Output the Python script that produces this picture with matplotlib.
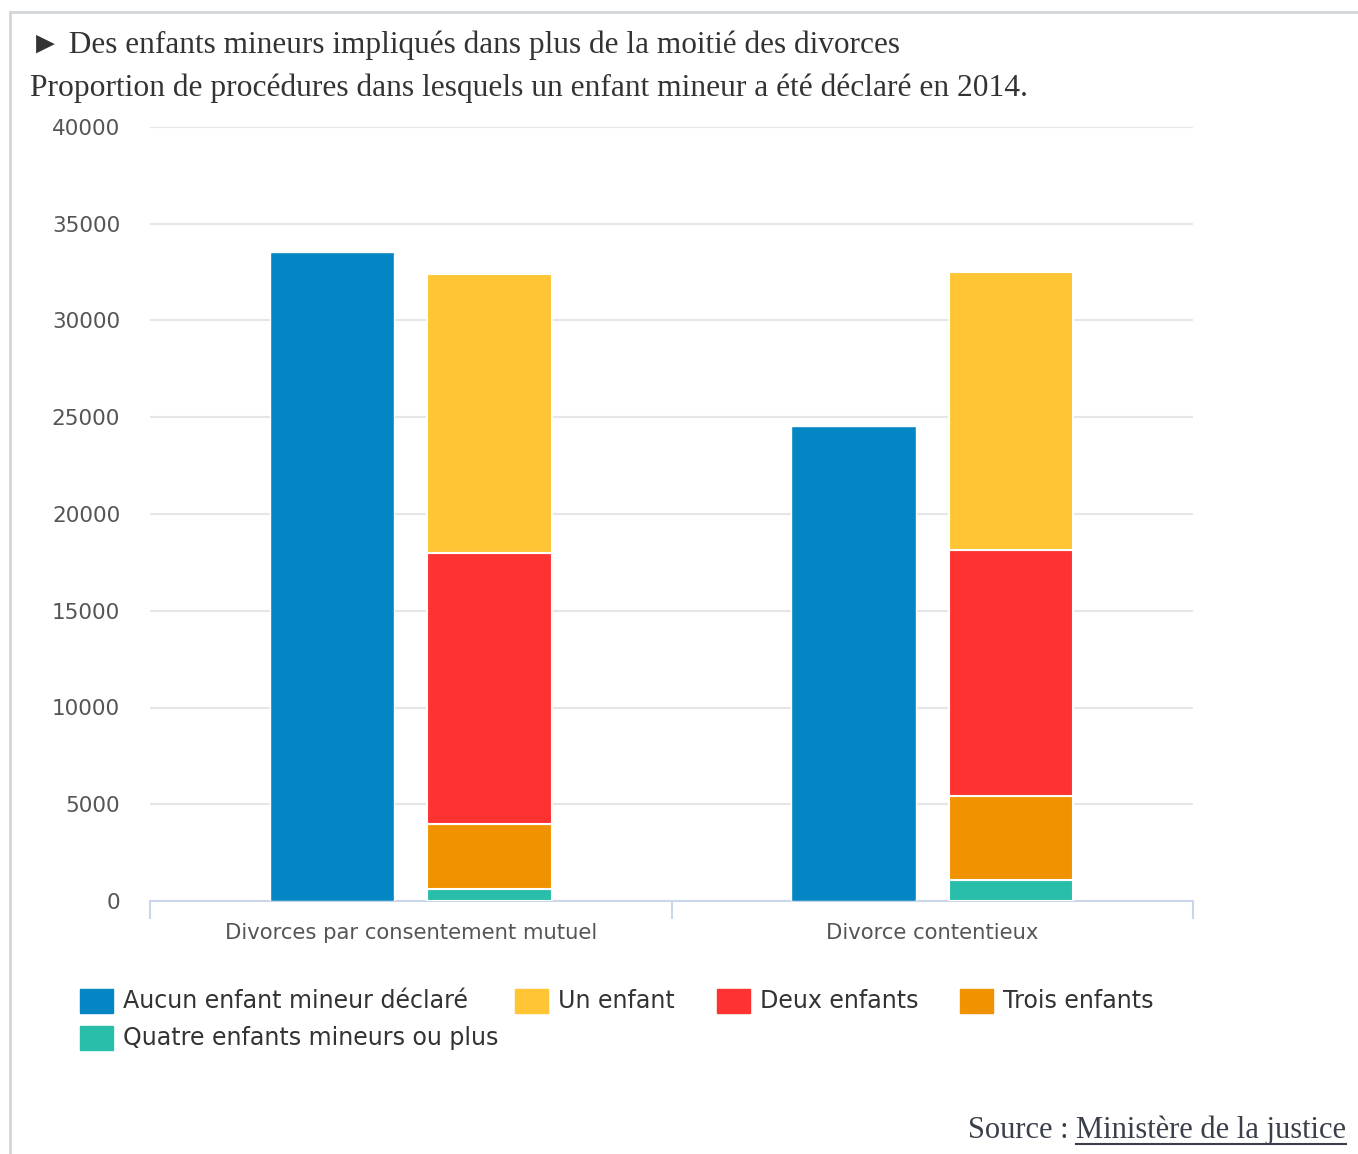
import numpy as np
import matplotlib.pyplot as plt
from matplotlib.patches import Rectangle
from matplotlib.lines import Line2D

# Divorces in 2014, by number of minor children declared
categories = ["Divorces par consentement mutuel", "Divorce contentieux"]
aucun = [33550, 24550]
un_enfant = [14410, 14370]
deux_enfants = [13990, 12710]
trois_enfants = [3380, 4340]
quatre_plus = [620, 1090]

series_labels = ["Aucun enfant mineur déclaré", "Un enfant", "Deux enfants",
                 "Trois enfants", "Quatre enfants mineurs ou plus"]
colors = ["#0386c3", "#ffc535", "#ff3232", "#f19300", "#28beaa"]
yticks = [0, 5000, 10000, 15000, 20000, 25000, 30000, 35000, 40000]

W, H = 1358, 1154
fig = plt.figure(figsize=(W / 100, H / 100), dpi=100)

# plot area in pixels: x 150..1193, y 127..901
ax = fig.add_axes([150 / W, 1 - 901 / H, (1193 - 150) / W, (901 - 127) / H])

x = np.arange(len(categories))
bw = 0.238
off = 0.151

ax.bar(x - off, aucun, bw, color=colors[0], edgecolor="white", linewidth=1, zorder=3)

# stacked bar, bottom to top
stack = [(quatre_plus, colors[4]), (trois_enfants, colors[3]),
         (deux_enfants, colors[2]), (un_enfant, colors[1])]
bottom = np.zeros(len(categories))
for vals, c in stack:
    ax.bar(x + off, vals, bw, bottom=bottom, color=c, edgecolor="white",
           linewidth=1.5, zorder=3)
    bottom += np.array(vals)

ax.set_xlim(-0.5, 1.5)
ax.set_ylim(0, 40000)
ax.set_yticks(yticks)
ax.set_yticklabels([str(v) for v in yticks])
ax.set_xticks([])
ax.grid(axis="y", color="#e6e6e6", linewidth=1.5, zorder=0)
for s in ("top", "right", "left"):
    ax.spines[s].set_visible(False)
ax.spines["bottom"].set_color("#ccd6eb")
ax.spines["bottom"].set_linewidth(1.5)
ax.tick_params(axis="y", length=0, pad=21.5, labelsize=15.5, labelcolor="#555555")
for t in ax.get_yticklabels():
    t.set_fontfamily("DejaVu Sans")

# category separator ticks
for xt in (-0.5, 0.5, 1.5):
    ax.plot([xt, xt], [0, -870], color="#ccd6eb", lw=1.5, clip_on=False, zorder=4)

for i, cat in enumerate(categories):
    ax.text(i, -1650, cat, ha="center", va="center", fontsize=15.2, color="#555555",
            family="DejaVu Sans")

# frame
fig.add_artist(Line2D([10 / W, 1], [1 - 12 / H, 1 - 12 / H], color="#d3d6d9", lw=2))
fig.add_artist(Line2D([10 / W, 10 / W], [0, 1 - 12 / H], color="#d3d6d9", lw=2))

serif = ["Liberation Serif", "DejaVu Serif"]
fig.text(30 / W, 1 - 45 / H, "► Des enfants mineurs impliqués dans plus de la moitié des divorces",
         ha="left", va="center", fontsize=22.5, color="#333333", family=serif)
fig.text(30 / W, 1 - 88 / H, "Proportion de procédures dans lesquels un enfant mineur a été déclaré en 2014.",
         ha="left", va="center", fontsize=22.7, color="#333333", family=serif)

# legend
leg_items = [(80, 1001, 0), (515, 1001, 1), (717, 1001, 2), (960, 1001, 3), (80, 1038, 4)]
for px, py, k in leg_items:
    fig.add_artist(Rectangle((px / W, 1 - (py + 12) / H), 33 / W, 24 / H,
                             color=colors[k], transform=fig.transFigure))
    fig.text((px + 43) / W, 1 - py / H, series_labels[k], ha="left", va="center",
             fontsize=17.1, color="#333333", family="DejaVu Sans")

# source line with underlined link text
link = fig.text(1346 / W, 1 - 1130 / H, "Ministère de la justice", ha="right", va="center",
                fontsize=22, color="#3a3f4b", family=serif)
fig.canvas.draw()
bb = link.get_window_extent(fig.canvas.get_renderer())
fig.text(bb.x0 / W, 1 - 1130 / H, "Source : ", ha="right", va="center",
         fontsize=22, color="#3a3f4b", family=serif)
fig.add_artist(Line2D([bb.x0 / W, bb.x1 / W], [(bb.y0 + 1) / H, (bb.y0 + 1) / H],
                      color="#3a3f4b", lw=1.5))

fig.savefig("out.png", dpi=100, facecolor="white")
